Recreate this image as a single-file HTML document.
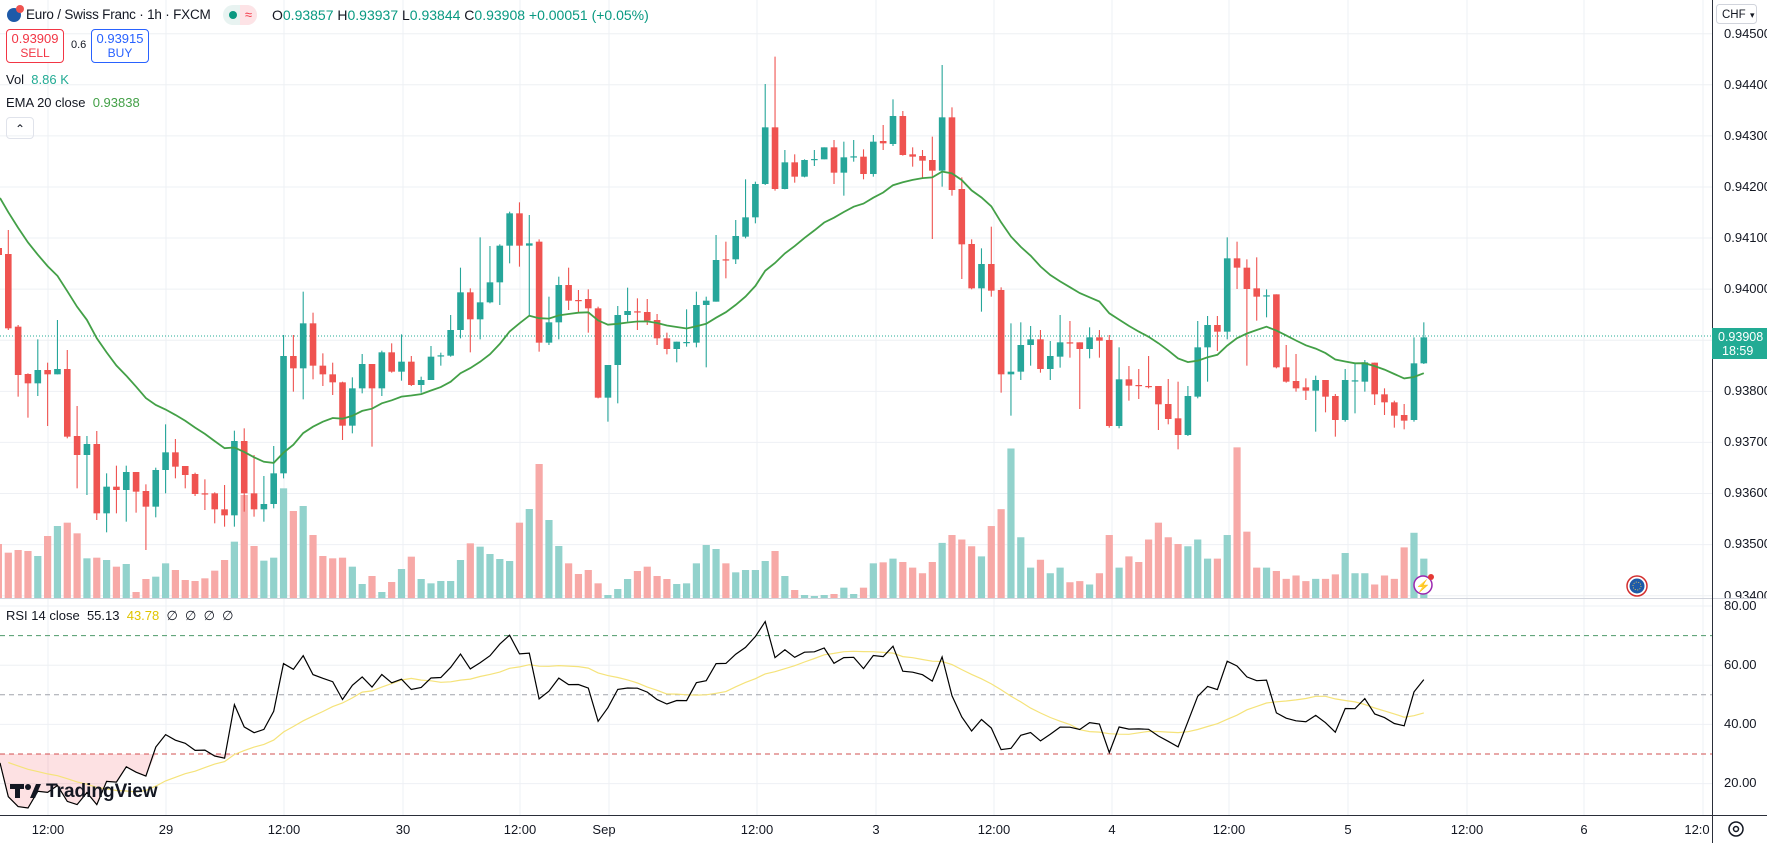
<!DOCTYPE html>
<html><head><meta charset="utf-8">
<style>
html,body{margin:0;padding:0;background:#fff;}
body{width:1767px;height:843px;overflow:hidden;position:relative;font-family:"Liberation Sans",sans-serif;color:#131722;}
svg{position:absolute;left:0;top:0;}
.t{position:absolute;white-space:nowrap;font-size:14px;}
.box{position:absolute;border:1px solid;border-radius:4px;text-align:center;font-size:12px;line-height:14px;background:#fff;}
</style></head><body>
<svg id="s" width="1767" height="843" viewBox="0 0 1767 843" xmlns="http://www.w3.org/2000/svg">
<defs><clipPath id="mc"><rect x="0" y="0" width="1767" height="598"/></clipPath>
<clipPath id="pc"><rect x="0" y="0" width="1712" height="598"/></clipPath>
<clipPath id="rc"><rect x="0" y="599" width="1712" height="216"/></clipPath></defs>
<g id="grid"></g>
<g id="vol" clip-path="url(#pc)"></g>
<g id="cand" clip-path="url(#pc)"></g>
<g id="ema" clip-path="url(#pc)"></g>
<g id="rsi" clip-path="url(#rc)"></g>
<g id="axis" clip-path="url(#mc)" font-family="Liberation Sans, sans-serif" font-size="13" fill="#131722">
<text x="1724" y="38">0.94500</text><text x="1724" y="89">0.94400</text><text x="1724" y="140">0.94300</text><text x="1724" y="191">0.94200</text><text x="1724" y="242">0.94100</text><text x="1724" y="293">0.94000</text><text x="1724" y="344">0.93900</text><text x="1724" y="395">0.93800</text><text x="1724" y="446">0.93700</text><text x="1724" y="497">0.93600</text><text x="1724" y="548">0.93500</text><text x="1724" y="600">0.93400</text>
</g>
<g font-family="Liberation Sans, sans-serif" font-size="13" fill="#131722">
<text x="1724" y="610">80.00</text><text x="1724" y="669">60.00</text><text x="1724" y="728">40.00</text><text x="1724" y="787">20.00</text>
</g>
<g font-family="Liberation Sans, sans-serif" font-size="13" fill="#131722" text-anchor="middle">
<text x="48" y="834">12:00</text><text x="166" y="834">29</text><text x="284" y="834">12:00</text><text x="403" y="834">30</text><text x="520" y="834">12:00</text><text x="604" y="834">Sep</text><text x="757" y="834">12:00</text><text x="876" y="834">3</text><text x="994" y="834">12:00</text><text x="1112" y="834">4</text><text x="1229" y="834">12:00</text><text x="1348" y="834">5</text><text x="1467" y="834">12:00</text><text x="1584" y="834">6</text><text x="1697" y="834">12:0</text>
</g>
<rect x="1712" y="328" width="55" height="31" fill="#22ab94"/>
<text x="1718" y="341" font-family="Liberation Sans, sans-serif" font-size="12.5" fill="#fff">0.93908</text>
<text x="1722" y="355" font-family="Liberation Sans, sans-serif" font-size="12.5" fill="#fff">18:59</text>
<rect x="1716.5" y="4.5" width="40" height="19" rx="3" fill="#fff" stroke="#d1d4dc"/>
<text x="1722" y="18" font-family="Liberation Sans, sans-serif" font-size="11.5" fill="#131722">CHF</text>
<text x="1750" y="18" font-family="Liberation Sans, sans-serif" font-size="9" fill="#131722">▾</text>
<circle cx="1423" cy="585" r="9" fill="#fff" stroke="#9c27b0" stroke-width="1.5"/>
<text x="1423" y="590" text-anchor="middle" font-size="12" fill="#9c27b0">⚡</text>
<circle cx="1431" cy="577" r="3" fill="#e53935"/>
<circle cx="1637" cy="586" r="10" fill="#fff" stroke="#d32f2f" stroke-width="1.5"/>
<circle cx="1637" cy="586" r="7.5" fill="#1e5aa8"/>
<circle cx="1637" cy="586" r="4" fill="none" stroke="#ffd54f" stroke-width="0.8" stroke-dasharray="1 1.5"/>
<circle cx="1736" cy="829" r="7" fill="none" stroke="#131722" stroke-width="1.5"/>
<circle cx="1736" cy="829" r="2.5" fill="none" stroke="#131722" stroke-width="1.5"/>
<circle cx="14" cy="15" r="7" fill="#1e5aa8"/>
<circle cx="20" cy="9" r="4" fill="#ef5350"/>
<g fill="#131722"><rect x="10" y="784" width="14" height="5"/><rect x="15" y="784" width="5" height="14"/><circle cx="28" cy="787" r="3"/><path d="M30 798 L36 784 L41 784 L35 798Z"/></g>
<text x="46" y="797" font-family="Liberation Sans, sans-serif" font-size="19" font-weight="bold" fill="#131722">TradingView</text>
</svg>

<div class="t" style="left:26px;top:7px;font-size:13.5px;letter-spacing:-0.2px;">Euro / Swiss Franc · 1h · FXCM</div>
<div style="position:absolute;left:223px;top:5px;width:34px;height:20px;border-radius:10px;background:#e8f3f1;overflow:hidden;"><div style="position:absolute;left:17px;top:0;width:17px;height:20px;background:#fde3e6;color:#f23645;font-size:13px;line-height:20px;text-align:center;">≈</div><div style="position:absolute;left:6px;top:6px;width:8px;height:8px;border-radius:4px;background:#089981;"></div></div>
<div class="t" style="left:272px;top:7px;font-size:14px;">O<span style="color:#089981">0.93857</span> H<span style="color:#089981">0.93937</span> L<span style="color:#089981">0.93844</span> C<span style="color:#089981">0.93908</span> <span style="color:#089981">+0.00051 (+0.05%)</span></div>
<div class="box" style="left:6px;top:29px;width:56px;height:32px;border-color:#f23645;color:#f23645;"><div style="margin-top:2px;font-size:13px;">0.93909</div><div>SELL</div></div>
<div class="t" style="left:71px;top:39px;font-size:11px;">0.6</div>
<div class="box" style="left:91px;top:29px;width:56px;height:32px;border-color:#2962ff;color:#2962ff;"><div style="margin-top:2px;font-size:13px;">0.93915</div><div>BUY</div></div>
<div class="t" style="left:6px;top:72px;font-size:13px;">Vol &nbsp;<span style="color:#22ab94">8.86 K</span></div>
<div class="t" style="left:6px;top:95px;font-size:13px;">EMA 20 close &nbsp;<span style="color:#43a047">0.93838</span></div>
<div style="position:absolute;left:6px;top:117px;width:26px;height:20px;border:1px solid #e0e3eb;border-radius:4px;font-size:12px;text-align:center;line-height:22px;">⌃</div>
<div class="t" style="left:6px;top:608px;font-size:13px;">RSI 14 close &nbsp;<span style="color:#131722">55.13</span> &nbsp;<span style="color:#e0c400">43.78</span> &nbsp;∅ &nbsp;∅ &nbsp;∅ &nbsp;∅</div>

<script>
const NS="http://www.w3.org/2000/svg";
function el(p,t,a){const e=document.createElementNS(NS,t);for(const k in a)e.setAttribute(k,a[k]);document.getElementById(p).appendChild(e);return e;}
const gx=[48,166,284,403,520,609,757,876,994,1112,1229,1348,1467,1584,1703];
gx.forEach(x=>el("grid","line",{x1:x,y1:0,x2:x,y2:815,stroke:"#eef0f4","stroke-width":1}));
for(let k=0;k<12;k++){const y=33.7+k*51.09;el("grid","line",{x1:0,y1:y,x2:1712,y2:y,stroke:"#eef0f4"});}
[606,665.2,724.4,783.6].forEach(y=>el("grid","line",{x1:0,y1:y,x2:1712,y2:y,stroke:"#eef0f4"}));
el("grid","line",{x1:0,y1:598.5,x2:1767,y2:598.5,stroke:"#d1d4dc"});
el("grid","line",{x1:1712.5,y1:0,x2:1712.5,y2:843,stroke:"#2a2e39"});
el("grid","line",{x1:0,y1:815.5,x2:1767,y2:815.5,stroke:"#2a2e39"});
el("grid","line",{x1:0,y1:336,x2:1712,y2:336,stroke:"#22ab94","stroke-dasharray":"1 2"});
const Z3=[[222,150,450,445],[440,435,650,585],[582,580,713,610],[610,478,648,570],[570,548,738,583],[583,420,583,567],[567,510,775,770],[768,678,925,825],[825,768,945,792],[792,753,1020,1000],[1000,880,1057,920],[920,857,1000,930],[930,857,1025,876],[876,876,998,935],[933,913,1110,980],[980,863,1012,870],[870,733,940,817],[817,777,895,860],[858,858,925,885],[882,878,948,942],[940,898,990,941],[940,937,1030,988],[988,915,1040,1006],[1006,752,1040,783],[783,745,995,940],[940,825,1010,988],[988,888,1025,972],[972,798,985,880],[880,465,895,528],[528,465,635,565],[565,335,658,430],[430,398,598,557],[557,520,618,583],[583,548,645,607],[607,605,780,737],[737,592,760,625],[625,522,640,552],[552,552,800,625],[625,512,648,517],[517,490,578,575],[575,463,602,545],[545,528,618,615],[615,590,638,600],[600,498,600,530],[527,518,557,526]];
const Z4=[[617,495,620,540],[540,353,565,427],[427,415,607,508],[508,262,568,457],[457,288,460,397],[397,283,465,287],[287,185,340,190],[190,157,350,287],[287,195,495,280],[275,268,605,578],[578,440,585,517],[517,380,568,405],[405,353,480,452],[450,420,490,451],[447,418,548,475],[475,470,745,743],[743,645,815,645],[645,468,760,495],[495,413,515,483],[484,445,540,485],[486,447,525,512],[510,492,585,565],[565,548,613,597],[597,575,637,575],[577,478,590,576],[578,425,592,465],[465,440,652,452],[455,255,455,330],[328,275,385,329]];
const Z5=[[658,540,672,588],[590,418,595,532],[532,425,550,432],[432,132,435,262],[262,50,452,447],[447,330,448,367],[367,343,428,410],[410,358,412,360],[358,330,378,357],[358,322,358,322],[322,300,432,398],[398,305,467,352],[350,300,365,349],[350,328,418,402],[402,285,410,305],[303,255,330,310],[312,178,318,228],[228,213,347,345],[343,322,380,350],[348,330,413,362],[360,290,597,392],[392,75,440,232],[232,202,467,450],[447,412,717,613],[612,598,748,745],[745,625,815,672]];
const Z6=[[192,80,290,272],[270,262,578,523],[523,370,647,515],[515,367,540,435],[435,378,497,418],[418,390,518,507],[507,423,540,468],[470,345,503,427],[427,363,473,428],[427,427,627,447],[447,382,475,412],[412,390,473,422],[420,405,683,678],[678,442,685,538],[538,498,602,557],[555,507,597,556],[558,468,565,559],[558,558,690,613],[612,537,673,657],[655,545,748,705],[705,558,708,588],[590,363,595,442],[442,348,545,375],[375,348,453,395],[395,112,418,175],[175,125,267,203],[203,178,497,267],[265,172,362,290],[287,268,352,286],[283,283,505,502],[502,435,548,545],[543,462,575,565],[562,535,600,572],[572,527,695,540],[540,540,637,590],[588,582,710,660],[660,507,665,540],[542,488,640,541],[545,480,575,487],[488,488,615,583],[583,565,645,607],[607,602,683,647],[645,612,688,662],[660,412,665,490],[490,367,492,412]];
const C=[];
Z3.forEach(a=>C.push(a.map(v=>180+v/3)));
Z4.forEach(a=>C.push(a.map(v=>150+v/3)));
Z5.forEach(a=>C.push(a.map(v=>40+v/3)));
Z6.forEach(a=>C.push(a.map(v=>200+v/3)));
const V3=[1118,1110,1113,1128,1068,1038,1028,1060,1135,1133,1140,1160,1152,1236,1197,1190,1150,1170,1200,1203,1195,1172,1140,1085,945,1098,1142,1133,925,993,978,1065,1128,1135,1133,1160,1212,1188,1236,1206,1167,1130,1197,1210,1203];
const V4=[1293,1230,1180,1190,1212,1227,1233,1118,1077,942,1110,1188,1240,1272,1260,1300,1335,1317,1287,1263,1250,1278,1287,1302,1300,1240,1185,1197,1240,1267,1260,1260,1233,1203,1278,1320,1335,1338,1335,1332,1313,1332,1313,1240,1237];
const VD=[497,500,505,510,500,483,476,480,486,495,468,453,399,478,505,498,510,505,518,517,520,510,476,505,495,500,480,465,478,484,486,480,497,497,476,398,473,505,505,508,515,512,517,515,515,511,492,510,510,520,512,515,487,474,497];
const V=[];V3.forEach(v=>V.push(180+v/3));V4.forEach(v=>V.push(150+v/3));VD.forEach(v=>V.push(v*1.124));
const X=i=>8.3+9.83*i;
el("cand","rect",{x:-3,y:248,width:5,height:7,fill:"#ef5350"});
el("vol","rect",{x:-3,y:180+1092/3,width:5,height:598-(180+1092/3),fill:"#f7a9a7"});
C.forEach((c,i)=>{
 const [o,h,l,cl]=c;const up=cl<=o;const col=up?"#26a69a":"#ef5350";const x=X(i);
 if(V[i]!==undefined) el("vol","rect",{x:x-3.6,y:V[i],width:7.2,height:Math.max(0,598-V[i]),fill:up?"#92d2cc":"#f7a9a7"});
 el("cand","line",{x1:x,y1:h,x2:x,y2:l,stroke:col,"stroke-width":1.1});
 const top=Math.min(o,cl),bh=Math.max(1.2,Math.abs(o-cl));
 el("cand","rect",{x:x-3.3,y:top,width:6.6,height:bh,fill:col});
});
let e=200,pts=[];const a=2/21;
C.forEach((c,i)=>{e=e+a*(c[3]-e);pts.push(X(i).toFixed(1)+","+e.toFixed(1));});
el("ema","polyline",{points:"0,198 "+pts.join(" "),fill:"none",stroke:"#43a047","stroke-width":1.8});
const RY=v=>606+(80-v)*2.96;
[[70,"#4e9a6a"],[50,"#a0a3ab"],[30,"#d05050"]].forEach(([v,c])=>el("rsi","line",{x1:0,y1:RY(v),x2:1712,y2:RY(v),stroke:c,"stroke-dasharray":"5 4"}));
let ag=2.2,al=6.2,prev=C[0][0];const R=[];
C.forEach(c=>{const ch=prev-c[3];prev=c[3];const g=Math.max(ch,0),l=Math.max(-ch,0);ag=(ag*13+g)/14;al=(al*13+l)/14;R.push(100-100/(1+ag/al));});
const S=[];R.forEach((r,i)=>{let s=0,n=0;for(let j=i-13;j<=i;j++){s+=(j<0?28:R[j]);n++;}S.push(s/n);});
let fp=[];R.forEach((r,i)=>{fp.push(X(i).toFixed(1)+","+RY(Math.min(r,30)).toFixed(1));});
el("rsi","polygon",{points:"0,"+RY(30)+" 0,"+RY(26)+" "+fp.join(" ")+" "+X(R.length-1)+","+RY(30),fill:"rgba(242,54,69,0.15)"});
el("rsi","polyline",{points:S.map((s,i)=>X(i).toFixed(1)+","+RY(s).toFixed(1)).join(" "),fill:"none",stroke:"#f5e37a","stroke-width":1.2});
el("rsi","polyline",{points:"0,"+RY(27)+" "+R.map((r,i)=>X(i).toFixed(1)+","+RY(r).toFixed(1)).join(" "),fill:"none",stroke:"#000","stroke-width":1.2});
</script>
</body></html>
